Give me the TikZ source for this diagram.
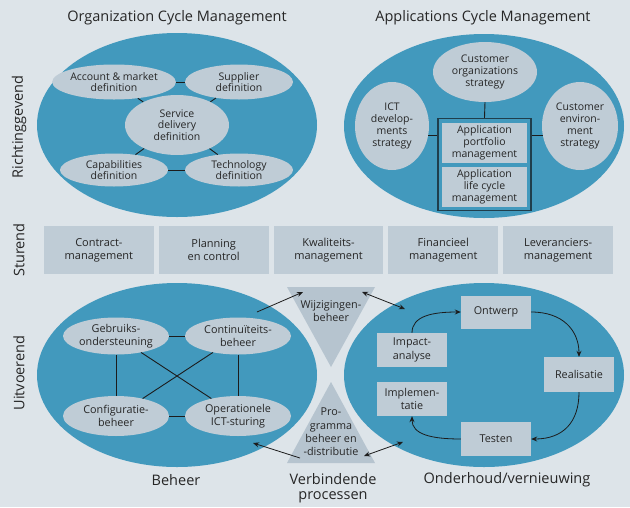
\documentclass[tikz,border=0pt]{standalone}
\usepackage{fontspec}
\setmainfont{Open Sans}
\usetikzlibrary{shapes.geometric,arrows.meta}
\definecolor{bgc}{HTML}{DDE4E9}
\definecolor{teal}{HTML}{4299BD}
\definecolor{lite}{HTML}{BFCCD6}
\definecolor{tri}{HTML}{B6C4CF}
\definecolor{txt}{HTML}{262626}
\definecolor{lnc}{HTML}{1C1C1C}
\definecolor{frm}{HTML}{1F3E4C}
\begin{document}
\begin{tikzpicture}[x=1pt,y=-1pt,
  every node/.style={text=txt,font=\fontsize{10.5}{11.8}\selectfont,align=center,inner sep=0pt},
  big/.style={font=\fontsize{14.5}{16}\selectfont},
  outer/.style={ellipse,fill=teal,minimum width=280pt,minimum height=184pt},
  inell/.style={ellipse,fill=lite},
  sbox/.style={rectangle,fill=lite,minimum width=109.8pt,minimum height=48pt,font=\fontsize{11}{12.8}\selectfont},
  rbox/.style={rectangle,fill=lite,minimum width=70pt,minimum height=34pt,font=\fontsize{10.8}{13.5}\selectfont},
  link/.style={draw=lnc,line width=0.9pt},
  arr/.style={draw=lnc,line width=0.8pt,-{Stealth[length=6pt,width=5pt]}},
  darr/.style={draw=lnc,line width=0.8pt,{Stealth[length=6pt,width=5pt]}-{Stealth[length=6pt,width=5pt]}},
]
\fill[bgc] (0,0) rectangle (630,507);
\useasboundingbox (0,0) rectangle (630,507);

% titles and side labels
\node[big] (t1) at (177,18) {Organization Cycle Management};
\node[big] (t2) at (483,18) {Applications Cycle Management};
\node[big,rotate=90] (s1) at (19,127) {Richtinggevend};
\node[big,rotate=90] (s2) at (19,250) {Sturend};
\node[big,rotate=90] (s3) at (19,373) {Uitvoerend};

% ---------- top left ----------
\node[outer] (ocm) at (177,125) {};
\node[inell,minimum width=108pt,minimum height=35pt] (acc) at (114,82) {Account \& market\\definition};
\node[inell,minimum width=108pt,minimum height=35pt] (sup) at (239,82) {Supplier\\definition};
\node[inell,minimum width=104pt,minimum height=60pt] (svc) at (177,125) {Service\\delivery\\definition};
\node[inell,minimum width=108pt,minimum height=33pt] (cap) at (114,170) {Capabilities\\definition};
\node[inell,minimum width=108pt,minimum height=33pt] (tec) at (239,170) {Technology\\definition};
\draw[link] (acc) -- (sup);
\draw[link] (cap) -- (tec);
\draw[link] (acc) -- (svc);
\draw[link] (sup) -- (svc);
\draw[link] (cap) -- (svc);
\draw[link] (tec) -- (svc);

% ---------- top right ----------
\node[outer] (acm) at (484,126) {};
\node[inell,minimum width=104pt,minimum height=60pt] (cor) at (485,72) {Customer\\organizations\\strategy};
\node[inell,minimum width=74pt,minimum height=88pt] (ict) at (392,126) {ICT\\develop-\\ments\\strategy};
\node[inell,minimum width=76pt,minimum height=88pt] (cen) at (580,126) {Customer\\environ-\\ment\\strategy};
\node[rectangle,draw=frm,line width=1.3pt,fill=teal,minimum width=93pt,minimum height=92pt] (frame) at (484.5,164.5) {};
\node[rectangle,fill=lite,minimum width=85pt,minimum height=40pt] (apm) at (484.5,143) {Application\\portfolio\\management};
\node[rectangle,fill=lite,minimum width=85pt,minimum height=40pt] (alm) at (484.5,187) {Application\\life cycle\\management};
\draw[link] (cor.south) -- (frame.north);
\draw[link] (ict.-14) -- (ict.-14 -| frame.west);
\draw[link] (cen.194) -- (cen.194 -| frame.east);

% ---------- sturend ----------
\node[sbox] (b1) at (98.9,250) {Contract-\\management};
\node[sbox] (b2) at (213.7,250) {Planning\\en control};
\node[sbox] (b3) at (328.5,250) {Kwaliteits-\\management};
\node[sbox] (b4) at (443.3,250) {Financieel\\management};
\node[sbox] (b5) at (558.1,250) {Leveranciers-\\management};

% ---------- bottom left ----------
\node[outer] (beh) at (177,375) {};
\begin{scope}[every node/.append style={font=\fontsize{10.8}{13.3}\selectfont}]
\node[inell,minimum width=106pt,minimum height=37pt] (geb) at (116,336) {Gebruiks-\\ondersteuning};
\node[inell,minimum width=106pt,minimum height=37pt] (con) at (238,336) {Continuïteits-\\beheer};
\node[inell,minimum width=106pt,minimum height=40pt] (cfg) at (116,416) {Configuratie-\\beheer};
\node[inell,minimum width=106pt,minimum height=40pt] (ops) at (238,416) {Operationele\\ICT-sturing};
\end{scope}
\draw[link] (geb) -- (con);
\draw[link] (cfg) -- (ops);
\draw[link] (geb) -- (cfg);
\draw[link] (con) -- (ops);
\draw[link] (geb) -- (ops);
\draw[link] (con) -- (cfg);

% ---------- bottom right ----------
\node[outer] (ond) at (484,375) {};
\node[rbox,minimum height=33pt] (ont) at (496,312) {Ontwerp};
\node[rbox] (imp) at (412,350) {Impact-\\analyse};
\node[rbox,minimum height=35pt] (rea) at (579,374.5) {Realisatie};
\node[rbox] (iml) at (412,399) {Implemen-\\tatie};
\node[rbox] (tes) at (496,439) {Testen};
\draw[arr] (imp.north) .. controls +(0,-17) and +(-28,0) .. (ont.west);
\draw[arr] (ont.east) .. controls +(32,0) and +(0,-26) .. (rea.north);
\draw[arr] (rea.south) .. controls +(0,30) and +(32,0) .. (tes.east);
\draw[arr] (tes.west) .. controls +(-30,0) and +(0,18) .. (iml.south);

% ---------- hourglass ----------
\fill[tri] (287,287) -- (375,287) -- (331,367) -- cycle;
\fill[tri] (331,382) -- (375,463) -- (287,463) -- cycle;
\node[font=\fontsize{10.8}{13.3}\selectfont] (wij) at (331,311) {Wijzigingen-\\beheer};
\node[font=\fontsize{10.8}{13.3}\selectfont] (pro) at (331,432) {Pro-\\gramma\\beheer en\\-distributie};

\coordinate (c1) at (257,312);
\coordinate (c2) at (303,292);
\coordinate (c3) at (362,292);
\coordinate (c4) at (405,309);
\coordinate (c5) at (300,458);
\coordinate (c6) at (253,443);
\coordinate (c7) at (364,456);
\coordinate (c8) at (403,442);
\draw[arr] (c1) -- (c2);
\draw[darr] (c3) -- (c4);
\draw[arr] (c5) -- (c6);
\draw[darr] (c7) -- (c8);

% bottom labels
\node[big] (l1) at (176,480) {Beheer};
\node[big,font=\fontsize{14.5}{15.5}\selectfont] (l2) at (333,488) {Verbindende\\processen};
\node[big] (l3) at (507,480) {Onderhoud/vernieuwing};
\end{tikzpicture}
\end{document}
